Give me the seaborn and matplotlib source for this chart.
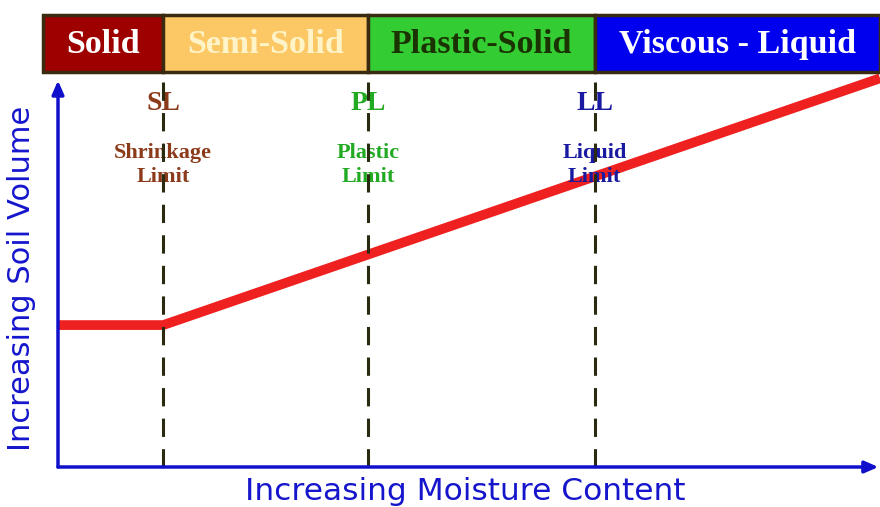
import pandas as pd
import seaborn as sns
import matplotlib.pyplot as plt
from matplotlib.patches import Rectangle

# States of soil and the consistency limits between them
states = ["Solid", "Semi-Solid", "Plastic-Solid", "Viscous - Liquid"]
state_colors = ["#9e0000", "#fcc866", "#33cc33", "#0000ee"]
state_text_colors = ["#ffffff", "#fff4c8", "#1a3300", "#ffffff"]

limit_abbr = ["SL", "PL", "LL"]
limit_names = ["Shrinkage\nLimit", "Plastic\nLimit", "Liquid\nLimit"]
limit_colors = ["#8b3a1a", "#22aa22", "#1a1aa0"]
limit_moisture = [12.8, 37.7, 65.3]

# Volume vs moisture curve
moisture = [0, 12.8, 100]
volume = [31.4, 31.4, 86]

df = pd.DataFrame({"Moisture": moisture, "Volume": volume})

sns.set_style("white")
fig = plt.figure(figsize=(8.8, 5.07), dpi=100)
ax = fig.add_axes([58 / 880, 40 / 507, 822 / 880, 452 / 507])
ax.set_xlim(0, 100)
ax.set_ylim(0, 100)
for s in ax.spines.values():
    s.set_visible(False)
ax.set_xticks([])
ax.set_yticks([])

# header band with the states
band_lo, band_hi = 87.4, 100
edges = [-1.8] + limit_moisture + [100]
for i, name in enumerate(states):
    ax.add_patch(Rectangle((edges[i], band_lo), edges[i + 1] - edges[i], band_hi - band_lo,
                           facecolor=state_colors[i], edgecolor="#3a2a10", linewidth=2.5,
                           clip_on=False, zorder=4))
    ax.text((edges[i] + edges[i + 1]) / 2, (band_lo + band_hi) / 2 - 0.3, name,
            ha="center", va="center", fontsize=24.5, fontweight="bold",
            family="Liberation Serif", color=state_text_colors[i], zorder=5, clip_on=False)

# dashed limit lines and labels
for x, ab, nm, c in zip(limit_moisture, limit_abbr, limit_names, limit_colors):
    ax.plot([x, x], [0, band_lo], color="#2a2a10", linewidth=2.2,
            dashes=(6, 4), zorder=3)
    ax.text(x, 80.5, ab, ha="center", va="center", fontsize=20, fontweight="bold",
            family="Liberation Serif", color=c, zorder=2.5)
    ax.text(x, 66.8, nm, ha="center", va="center", fontsize=16, fontweight="bold",
            family="Liberation Serif", color=c, linespacing=1.3, zorder=2.5)

# volume curve
sns.lineplot(data=df, x="Moisture", y="Volume", ax=ax, color="#ee2020",
             linewidth=7, solid_capstyle="butt", zorder=2, clip_on=False)
ax.set_xlabel("")
ax.set_ylabel("")

# axis arrows
arrow = dict(arrowstyle="-|>,head_length=0.8,head_width=0.35", color="#1010cc",
             linewidth=2.5, shrinkA=0, shrinkB=0)
ax.annotate("", xy=(99.8, 0), xytext=(0, 0), arrowprops=arrow, annotation_clip=False)
ax.annotate("", xy=(0, 85.5), xytext=(0, 0), arrowprops=arrow, annotation_clip=False)

fig.text(465 / 880, 1 - 491 / 507, "Increasing Moisture Content", ha="center", va="center",
         fontsize=22.5, color="#1515cc", family="DejaVu Sans")
fig.text(22 / 880, 1 - 278 / 507, "Increasing Soil Volume", ha="center", va="center",
         rotation=90, fontsize=22, color="#1515cc", family="DejaVu Sans")

fig.savefig("out.png", dpi=100)
plt.close(fig)
